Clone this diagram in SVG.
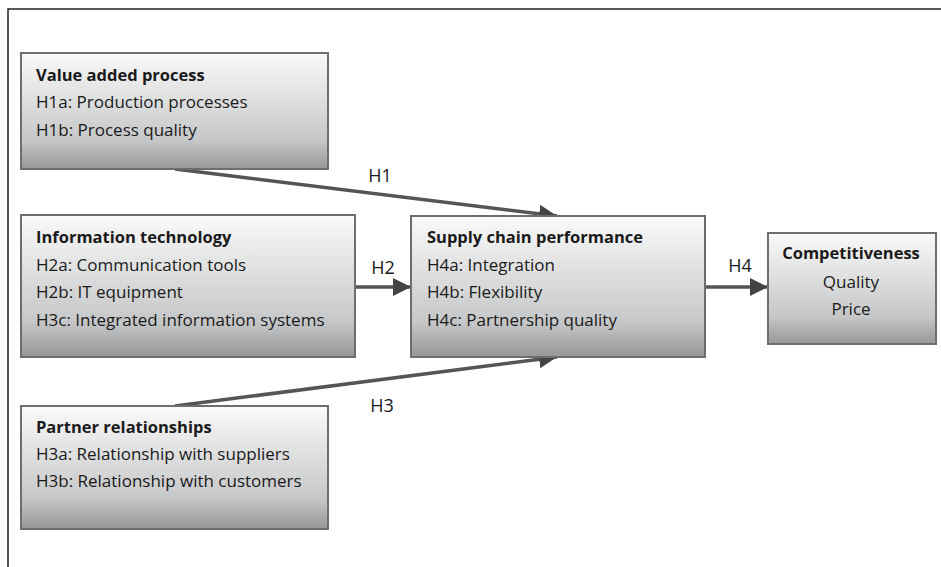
<svg xmlns="http://www.w3.org/2000/svg" width="941" height="567" viewBox="0 0 941 567">
<style>
.box{fill:url(#g);stroke:#6e6e6e;stroke-width:2}
.t{font-family:"Open Sans","Liberation Sans",sans-serif;font-size:17px;fill:#1a1a1a}
.b{font-weight:bold;font-size:16.5px}
.lbl{font-family:"Open Sans","Liberation Sans",sans-serif;font-size:18px;fill:#1a1a1a;text-anchor:middle}
.c{stroke:#555;stroke-width:3.5;fill:none}
</style>
<defs>
<linearGradient id="g" x1="0" y1="0" x2="0" y2="1">
<stop offset="0" stop-color="#fafafa"/>
<stop offset="0.75" stop-color="#c6c7c8"/>
<stop offset="1" stop-color="#969799"/>
</linearGradient>
<marker id="ah" markerUnits="userSpaceOnUse" markerWidth="20" markerHeight="18" refX="18" refY="9" orient="auto">
<path d="M0,0 L18,9 L0,18 Z" fill="#444"/>
</marker>
</defs>
<rect x="0" y="0" width="941" height="567" fill="#fff"/>
<path d="M8,567 V9 H941" fill="none" stroke="#222" stroke-width="1.5"/>
<g id="connectors">
<line class="c" x1="175" y1="169" x2="557" y2="216" marker-end="url(#ah)"/>
<line class="c" x1="355" y1="287" x2="411" y2="287" marker-end="url(#ah)"/>
<line class="c" x1="175" y1="406" x2="557" y2="357" marker-end="url(#ah)"/>
<line class="c" x1="705" y1="287" x2="768" y2="287" marker-end="url(#ah)"/>
<text class="lbl" x="380" y="182">H1</text>
<text class="lbl" x="383" y="274">H2</text>
<text class="lbl" x="382" y="412">H3</text>
<text class="lbl" x="740" y="272">H4</text>
</g>
<g id="value-added">
<rect class="box" x="21" y="53" width="307" height="116"/>
<text class="t b" x="36" y="81">Value added process</text>
<text class="t" x="36" y="108">H1a: Production processes</text>
<text class="t" x="36" y="136">H1b: Process quality</text>
</g>
<g id="info-tech">
<rect class="box" x="21" y="215" width="334" height="142"/>
<text class="t b" x="36" y="243">Information technology</text>
<text class="t" x="36" y="271">H2a: Communication tools</text>
<text class="t" x="36" y="298">H2b: IT equipment</text>
<text class="t" x="36" y="326">H3c: Integrated information systems</text>
</g>
<g id="partner">
<rect class="box" x="21" y="406" width="307" height="123"/>
<text class="t b" x="36" y="433">Partner relationships</text>
<text class="t" x="36" y="460">H3a: Relationship with suppliers</text>
<text class="t" x="36" y="487">H3b: Relationship with customers</text>
</g>
<g id="scp">
<rect class="box" x="411" y="216" width="294" height="141"/>
<text class="t b" x="427" y="243">Supply chain performance</text>
<text class="t" x="427" y="271">H4a: Integration</text>
<text class="t" x="427" y="298">H4b: Flexibility</text>
<text class="t" x="427" y="326">H4c: Partnership quality</text>
</g>
<g id="competitiveness">
<rect class="box" x="768" y="233" width="168" height="111"/>
<text class="t b" x="851" y="259" text-anchor="middle">Competitiveness</text>
<text class="t" x="851" y="288" text-anchor="middle">Quality</text>
<text class="t" x="851" y="315" text-anchor="middle">Price</text>
</g>
</svg>
